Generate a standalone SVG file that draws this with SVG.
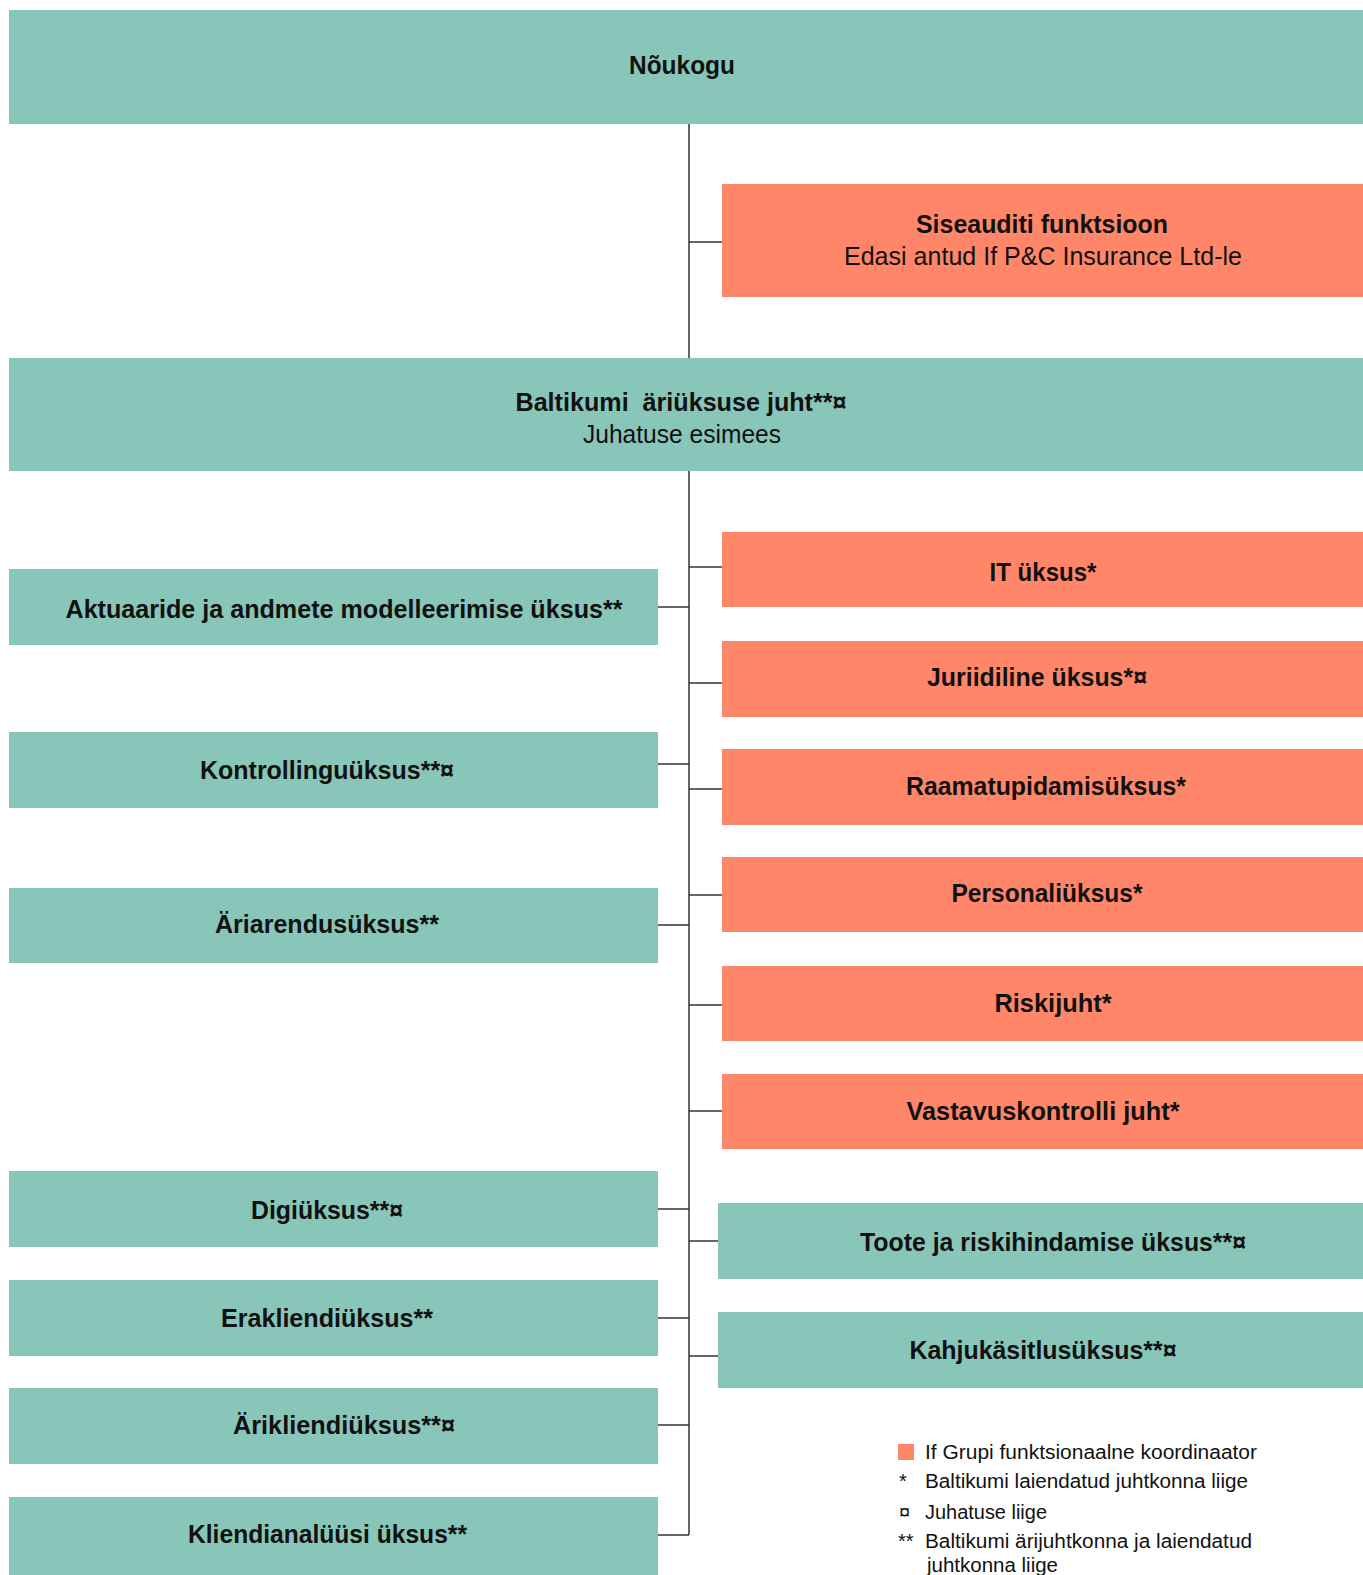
<svg xmlns="http://www.w3.org/2000/svg" width="1363" height="1575" viewBox="0 0 1363 1575">
<style>
.teal{fill:#88C6B9}
.orange{fill:#FF8668}
.b{font-family:"Liberation Sans",Arial,sans-serif;font-weight:bold;font-size:25px;fill:#111;text-anchor:middle}
.r{font-family:"Liberation Sans",Arial,sans-serif;font-size:25px;fill:#111;text-anchor:middle}
.lg{font-family:"Liberation Sans",Arial,sans-serif;font-size:20px;fill:#111}
.conn line{stroke:#333;stroke-width:1.5}
</style>
<rect width="1363" height="1575" fill="#fff"/>
<g class="conn" id="connectors">
<line x1="689" y1="124" x2="689" y2="358"/>
<line x1="689" y1="471" x2="689" y2="1535"/>
<line x1="689" y1="242" x2="722" y2="242"/>
<line x1="689" y1="567" x2="722" y2="567"/>
<line x1="658" y1="607" x2="689" y2="607"/>
<line x1="689" y1="683" x2="722" y2="683"/>
<line x1="658" y1="764" x2="689" y2="764"/>
<line x1="689" y1="789" x2="722" y2="789"/>
<line x1="689" y1="895" x2="722" y2="895"/>
<line x1="658" y1="925" x2="689" y2="925"/>
<line x1="689" y1="1005" x2="722" y2="1005"/>
<line x1="689" y1="1111" x2="722" y2="1111"/>
<line x1="658" y1="1209" x2="689" y2="1209"/>
<line x1="689" y1="1241" x2="718" y2="1241"/>
<line x1="658" y1="1318" x2="689" y2="1318"/>
<line x1="689" y1="1356" x2="718" y2="1356"/>
<line x1="658" y1="1425" x2="689" y2="1425"/>
<line x1="658" y1="1535" x2="689" y2="1535"/>
</g>
<g id="noukogu"><rect class="teal" x="9" y="10" width="1354" height="114"/><text class="b" x="682" y="74" textLength="106" lengthAdjust="spacingAndGlyphs">Nõukogu</text></g>
<g id="siseaudit"><rect class="orange" x="722" y="184" width="641" height="113"/><text class="b" x="1042" y="233" textLength="252" lengthAdjust="spacingAndGlyphs">Siseauditi funktsioon</text><text class="r" x="1043" y="265" textLength="398" lengthAdjust="spacingAndGlyphs">Edasi antud If P&amp;C Insurance Ltd-le</text></g>
<g id="baltikumi"><rect class="teal" x="9" y="358" width="1354" height="113"/><text class="b" x="681" y="411" textLength="331" lengthAdjust="spacingAndGlyphs">Baltikumi &#160;äriüksuse juht**¤</text><text class="r" x="682" y="443" textLength="198" lengthAdjust="spacingAndGlyphs">Juhatuse esimees</text></g>
<g id="it"><rect class="orange" x="722" y="532" width="641" height="75"/><text class="b" x="1043" y="580.5" textLength="107" lengthAdjust="spacingAndGlyphs">IT üksus*</text></g>
<g id="juriidiline"><rect class="orange" x="722" y="641" width="641" height="76"/><text class="b" x="1037" y="686" textLength="220" lengthAdjust="spacingAndGlyphs">Juriidiline üksus*¤</text></g>
<g id="raamatupidamine"><rect class="orange" x="722" y="749" width="641" height="76"/><text class="b" x="1046" y="794.5" textLength="280" lengthAdjust="spacingAndGlyphs">Raamatupidamisüksus*</text></g>
<g id="personal"><rect class="orange" x="722" y="857" width="641" height="75"/><text class="b" x="1047" y="902" textLength="191" lengthAdjust="spacingAndGlyphs">Personaliüksus*</text></g>
<g id="riskijuht"><rect class="orange" x="722" y="966" width="641" height="75"/><text class="b" x="1053" y="1011.5" textLength="117" lengthAdjust="spacingAndGlyphs">Riskijuht*</text></g>
<g id="vastavus"><rect class="orange" x="722" y="1074" width="641" height="75"/><text class="b" x="1043" y="1120" textLength="273" lengthAdjust="spacingAndGlyphs">Vastavuskontrolli juht*</text></g>
<g id="toote"><rect class="teal" x="718" y="1203" width="645" height="76"/><text class="b" x="1053" y="1250.5" textLength="386" lengthAdjust="spacingAndGlyphs">Toote ja riskihindamise üksus**¤</text></g>
<g id="kahju"><rect class="teal" x="718" y="1312" width="645" height="76"/><text class="b" x="1043" y="1359" textLength="267" lengthAdjust="spacingAndGlyphs">Kahjukäsitlusüksus**¤</text></g>
<g id="aktuaaride"><rect class="teal" x="9" y="569" width="649" height="76"/><text class="b" x="344" y="618" textLength="557" lengthAdjust="spacingAndGlyphs">Aktuaaride ja andmete modelleerimise üksus**</text></g>
<g id="kontrolling"><rect class="teal" x="9" y="732" width="649" height="76"/><text class="b" x="327" y="778.5" textLength="254" lengthAdjust="spacingAndGlyphs">Kontrollinguüksus**¤</text></g>
<g id="ariarendus"><rect class="teal" x="9" y="888" width="649" height="75"/><text class="b" x="327" y="933" textLength="224" lengthAdjust="spacingAndGlyphs">Äriarendusüksus**</text></g>
<g id="digi"><rect class="teal" x="9" y="1171" width="649" height="76"/><text class="b" x="327" y="1219" textLength="152" lengthAdjust="spacingAndGlyphs">Digiüksus**¤</text></g>
<g id="eraklient"><rect class="teal" x="9" y="1280" width="649" height="76"/><text class="b" x="327" y="1327" textLength="212" lengthAdjust="spacingAndGlyphs">Erakliendiüksus**</text></g>
<g id="ariklient"><rect class="teal" x="9" y="1388" width="649" height="76"/><text class="b" x="344" y="1434" textLength="222" lengthAdjust="spacingAndGlyphs">Ärikliendiüksus**¤</text></g>
<g id="kliendianaluus"><rect class="teal" x="9" y="1497" width="649" height="78"/><text class="b" x="327.5" y="1543" textLength="279" lengthAdjust="spacingAndGlyphs">Kliendianalüüsi üksus**</text></g>
<g id="legend">
<rect class="orange" x="898" y="1444" width="16" height="16"/>
<text class="lg" x="925" y="1459" textLength="332" lengthAdjust="spacingAndGlyphs">If Grupi funktsionaalne koordinaator</text>
<text class="lg" x="899" y="1488">*</text>
<text class="lg" x="925" y="1488" textLength="323" lengthAdjust="spacingAndGlyphs">Baltikumi laiendatud juhtkonna liige</text>
<text class="lg" x="899" y="1519">¤</text>
<text class="lg" x="925" y="1519" textLength="122" lengthAdjust="spacingAndGlyphs">Juhatuse liige</text>
<text class="lg" x="898" y="1548">**</text>
<text class="lg" x="925" y="1548" textLength="327" lengthAdjust="spacingAndGlyphs">Baltikumi ärijuhtkonna ja laiendatud</text>
<text class="lg" x="927" y="1572" textLength="131" lengthAdjust="spacingAndGlyphs">juhtkonna liige</text>
</g>
</svg>
